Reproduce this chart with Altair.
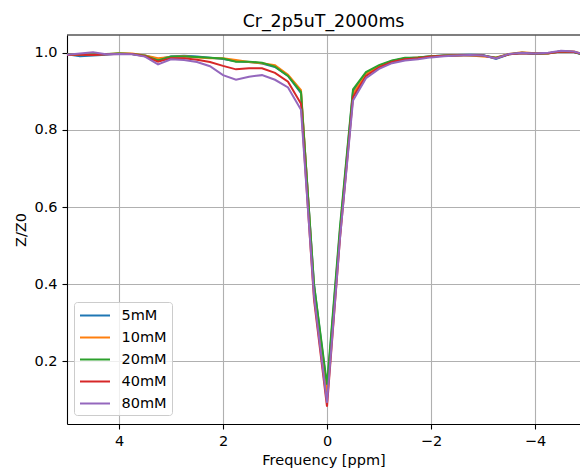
import altair as alt
import pandas as pd

ppm = [5, 4.75, 4.5, 4.25, 4, 3.75, 3.5, 3.25, 3, 2.75, 2.5, 2.25, 2, 1.75, 1.5, 1.25, 1, 0.75, 0.5, 0.25,
       0, -0.25, -0.5, -0.75, -1, -1.25, -1.5, -1.75, -2, -2.25, -2.5, -2.75, -3, -3.25, -3.5, -3.75, -4,
       -4.25, -4.5, -4.75, -5]

s5 = [0.996, 0.991, 0.993, 0.995, 0.998, 0.997, 0.993, 0.983, 0.990, 0.992, 0.990, 0.987, 0.984, 0.978,
      0.976, 0.972, 0.963, 0.940, 0.895, 0.40, 0.13, 0.54, 0.900, 0.948, 0.966, 0.979, 0.986, 0.988, 0.991,
      0.993, 0.994, 0.995, 0.994, 0.984, 0.996, 0.999, 0.997, 0.998, 1.004, 1.002, 0.991]
s10 = [0.995, 0.994, 0.997, 0.996, 0.999, 0.998, 0.993, 0.986, 0.989, 0.991, 0.988, 0.986, 0.986, 0.981,
       0.976, 0.973, 0.968, 0.943, 0.903, 0.39, 0.12, 0.53, 0.893, 0.945, 0.965, 0.978, 0.985, 0.988, 0.990,
       0.992, 0.994, 0.993, 0.990, 0.988, 0.997, 1.001, 0.999, 0.998, 1.004, 1.003, 0.993]
s20 = [0.996, 0.995, 0.996, 0.997, 0.998, 0.997, 0.992, 0.980, 0.990, 0.990, 0.989, 0.987, 0.985, 0.977,
       0.977, 0.974, 0.964, 0.940, 0.898, 0.40, 0.14, 0.55, 0.905, 0.950, 0.968, 0.980, 0.987, 0.988, 0.991,
       0.993, 0.993, 0.994, 0.993, 0.987, 0.996, 1.000, 0.998, 0.999, 1.003, 1.002, 0.992]
s40 = [0.995, 0.995, 0.994, 0.996, 0.997, 0.997, 0.991, 0.977, 0.986, 0.986, 0.982, 0.976, 0.966, 0.957,
       0.960, 0.960, 0.948, 0.925, 0.868, 0.36, 0.083, 0.52, 0.885, 0.940, 0.962, 0.976, 0.983, 0.986, 0.990,
       0.992, 0.993, 0.994, 0.993, 0.986, 0.996, 0.999, 0.998, 0.999, 1.003, 1.002, 0.993]
s80 = [0.995, 0.998, 1.001, 0.996, 0.997, 0.996, 0.990, 0.970, 0.983, 0.981, 0.976, 0.965, 0.942, 0.930,
       0.938, 0.942, 0.930, 0.910, 0.852, 0.37, 0.093, 0.52, 0.876, 0.934, 0.958, 0.973, 0.980, 0.983, 0.988,
       0.991, 0.993, 0.994, 0.993, 0.985, 0.997, 1.000, 0.998, 1.000, 1.005, 1.003, 0.994]

labels = ["5mM", "10mM", "20mM", "40mM", "80mM"]
colors = ["#1f77b4", "#ff7f0e", "#2ca02c", "#d62728", "#9467bd"]
series = [s5, s10, s20, s40, s80]

rows = []
for lab, vals in zip(labels, series):
    for p, v in zip(ppm, vals):
        rows.append({"ppm": p, "z": v, "conc": lab})
df = pd.DataFrame(rows)

W, H = 513, 389
FONT = "DejaVu Sans"

lines = alt.Chart(df).mark_line(strokeWidth=2, clip=True).encode(
    x=alt.X("ppm:Q",
            scale=alt.Scale(domain=[-4.865, 5], reverse=True, nice=False, zero=False),
            axis=alt.Axis(title="Frequency [ppm]", values=[4, 2, 0, -2, -4], format="d",
                          titlePadding=6)),
    y=alt.Y("z:Q",
            scale=alt.Scale(domain=[0.038, 1.046], nice=False, zero=False),
            axis=alt.Axis(title="Z/Z0", values=[0.2, 0.4, 0.6, 0.8, 1.0], format=".1f",
                          titlePadding=5)),
    color=alt.Color("conc:N", sort=labels,
                    scale=alt.Scale(domain=labels, range=colors),
                    legend=alt.Legend(title=None, orient="none", legendX=7, legendY=267,
                                      symbolType="M-2,0H2", symbolSize=225, symbolStrokeWidth=2,
                                      symbolOffset=7.5, labelOffset=18, labelFont=FONT,
                                      labelFontSize=14.5, labelColor="black",
                                      padding=5, rowPadding=7,
                                      fillColor="rgba(255,255,255,0.8)", strokeColor="#cccccc",
                                      cornerRadius=3)),
)

top = alt.Chart(pd.DataFrame({"a": [0]})).mark_rule(color="black", strokeWidth=1.1).encode(
    x=alt.value(0), x2=alt.value(W), y=alt.value(0)
)

chart = alt.layer(lines, top).properties(
    width=W, height=H,
    title=alt.TitleParams("Cr_2p5uT_2000ms", font=FONT, fontSize=17.4, fontWeight="normal",
                          color="black", anchor="middle", offset=4),
    padding={"left": 67, "top": 35, "right": 0, "bottom": 46},
    autosize=alt.AutoSizeParams(type="none"),
).configure_view(stroke=None).configure_axis(
    labelFont=FONT, labelFontSize=14.5, labelColor="black",
    titleFont=FONT, titleFontSize=14.5, titleFontWeight="normal", titleColor="black",
    domainColor="black", domainWidth=1.1, tickColor="black", tickWidth=1.1, tickSize=5,
    labelPadding=5, gridColor="#b0b0b0", gridWidth=1.1, gridOpacity=1,
)

chart.save("out.html", embed_options={"renderer": "svg", "actions": False})
